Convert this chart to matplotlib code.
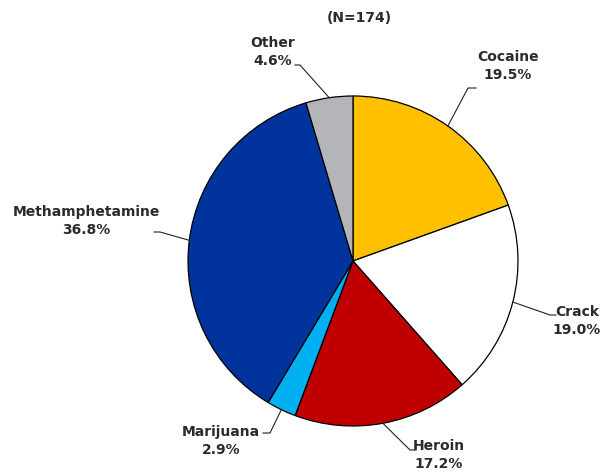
import numpy as np
import matplotlib.pyplot as plt

# drug share of cases
drugs = ['Cocaine', 'Crack', 'Heroin', 'Marijuana', 'Methamphetamine', 'Other']
shares = [19.5, 19.0, 17.2, 2.9, 36.8, 4.6]
colors = ['#FFC000', '#FFFFFF', '#C00000', '#00B0F0', '#00339C', '#B4B5B8']
n_total = 174

# label placement: text centre, elbow point, end of horizontal tick (pixels, y down)
label_xy = {'Cocaine': (508, 66), 'Crack': (577, 321), 'Heroin': (439, 455),
            'Marijuana': (221, 441), 'Methamphetamine': (86, 221), 'Other': (273, 52)}
elbow = {'Cocaine': ((468, 88), (476, 88)), 'Crack': ((550, 315), (556, 315)),
         'Heroin': ((410, 450), (416, 450)), 'Marijuana': ((270, 433), (263, 433)),
         'Methamphetamine': ((160, 232), (154, 232)), 'Other': ((300, 65), (295, 65))}

W, H = 602, 474
fig = plt.figure(figsize=(W / 100, H / 100), dpi=100)
ax = fig.add_axes([0, 0, 1, 1])

cx, cy, r = 353, H - 261, 165
ax.pie(shares, colors=colors, startangle=90, counterclock=False,
       center=(cx, cy), radius=r, frame=True,
       wedgeprops=dict(edgecolor='black', linewidth=0.9))
ax.set_xlim(0, W)
ax.set_ylim(0, H)
ax.set_aspect('equal')
ax.axis('off')

txt = '#2b2b2b'
cum = np.cumsum([0] + shares)
for i, name in enumerate(drugs):
    mid = np.deg2rad(90 - (cum[i] + shares[i] / 2) * 3.6)
    px, py = cx + r * np.cos(mid), cy + r * np.sin(mid)
    (ex, ey), (hx, hy) = elbow[name]
    ax.plot([px, ex, hx], [py, H - ey, H - hy], color='#222222', lw=0.8)
    lx, ly = label_xy[name]
    ax.text(lx, H - ly, f'{name}\n{shares[i]:.1f}%', ha='center', va='center',
            fontsize=10, fontweight='bold', color=txt, linespacing=1.3)

ax.text(359, H - 18, f'(N={n_total})', ha='center', va='center',
        fontsize=10, fontweight='bold', color=txt)

plt.savefig('out.png', dpi=100)
plt.close()
